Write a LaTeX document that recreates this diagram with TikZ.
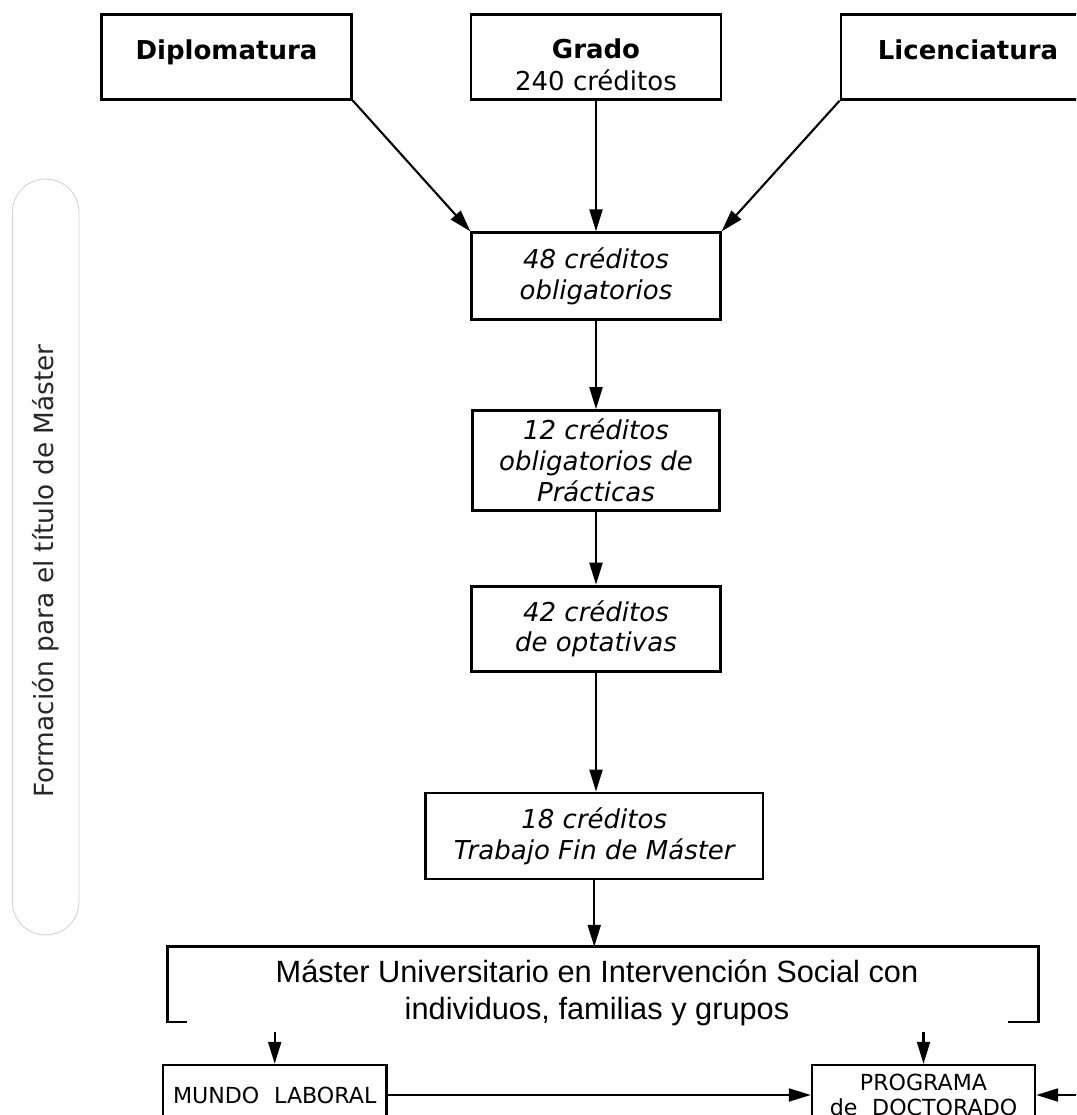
\documentclass[tikz,border=0pt]{standalone}
\usepackage{fontspec}
\setmainfont{DejaVu Sans}
\newfontfamily\arialfont{Liberation Sans}
\usetikzlibrary{arrows.meta}

\begin{document}
\begin{tikzpicture}
  [x=0.02cm,y=-0.02cm,
   >={Triangle[length=4.4mm,width=2.6mm]},
   % Styles
   origin box/.style={draw,line width=1.6pt,inner sep=0pt,align=center,
     minimum width=5cm,minimum height=1.69cm,
     font=\fontsize{14.8}{18}\selectfont},
   credit box/.style={draw,line width=1.6pt,inner sep=0pt,align=center,
     font=\fontsize{14.8}{17.5}\selectfont\itshape},
   exit box/.style={draw,line width=1.4pt,inner sep=0pt,align=center,
     minimum height=1.2cm,font=\fontsize{12.6}{14.2}\selectfont},
   flow line/.style={->,line width=1.2pt}]

  % Page
  \useasboundingbox (0,0) rectangle (1076,1115);
  \clip (0,0) rectangle (1076,1115);

  % Side label
  \node[draw=gray!35,line width=0.5pt,rounded corners=0.66cm,
    minimum width=1.33cm,minimum height=15.12cm] (marco lateral) at (45.7,557) {};
  \node[rotate=90,text=black!85,font=\fontsize{15}{18}\selectfont]
    (formacion) at (46,571) {Formación para el título de Máster};

  % Access degrees
  \node[origin box] (diplomatura) at (226.5,57)
    {\rule{0pt}{7.2mm}\textbf{Diplomatura}\\ \mbox{}};
  \node[origin box] (grado) at (596,57)
    {\rule{0pt}{7.2mm}\textbf{Grado}\\240 créditos};
  \node[origin box,minimum width=5.08cm] (licenciatura) at (968,57)
    {\rule{0pt}{7.2mm}\textbf{Licenciatura}\\ \mbox{}};

  % Credits
  \node[credit box,minimum width=4.97cm,minimum height=1.73cm] (obligatorios) at (596,276)
    {48 créditos\\obligatorios};
  \node[credit box,minimum width=4.93cm,minimum height=1.99cm] (practicas) at (596,460.35)
    {12 créditos\\obligatorios de\\Prácticas};
  \node[credit box,minimum width=4.97cm,minimum height=1.71cm] (optativas) at (596,628.85)
    {42 créditos\\de optativas};
  \node[credit box,minimum width=6.75cm,minimum height=1.72cm] (tfm) at (594.25,836)
    {18 créditos\\Trabajo Fin de Máster};

  % Degree
  \node[minimum width=17.4cm,minimum height=1.49cm,inner sep=0pt] (marco) at (603,984.35) {};
  \draw[line width=1.6pt] ([xshift=0.38cm]marco.south west) -- (marco.south west)
    -- (marco.north west) -- (marco.north east) -- (marco.south east)
    -- ([xshift=-0.61cm]marco.south east);
  \node[align=center,font=\arialfont\fontsize{17.5}{21}\selectfont] (master) at (597,993)
    {Máster Universitario en Intervención Social con\\individuos, familias y grupos};

  % Exits
  \node[exit box,minimum width=4.47cm] (mundo) at (274.7,1095) {MUNDO\hspace{0.35em} LABORAL};
  \node[exit box,minimum width=4.46cm] (doctorado) at (923.5,1095)
    {PROGRAMA\\de\hspace{0.35em} DOCTORADO};
  \coordinate (fuera) at (1100,1095);

  % Arrows
  \draw[flow line] (diplomatura.south east) -- (obligatorios.north west);
  \draw[flow line] (grado.south) -- (obligatorios.north);
  \draw[flow line] (licenciatura.south west) -- (obligatorios.north east);
  \draw[flow line] (obligatorios.south) -- (practicas.north);
  \draw[flow line] (practicas.south) -- (optativas.north);
  \draw[flow line] (optativas.south) -- (optativas.south |- tfm.north);
  \draw[flow line] (tfm.south) -- (tfm.south |- marco.north);
  \draw[flow line] ([yshift=0.64cm]mundo.north) -- (mundo.north);
  \draw[flow line] ([yshift=0.64cm]doctorado.north) -- (doctorado.north);
  \draw[flow line] (mundo.east) -- (doctorado.west);
  \draw[flow line] (fuera) -- (doctorado.east);
\end{tikzpicture}
\end{document}
